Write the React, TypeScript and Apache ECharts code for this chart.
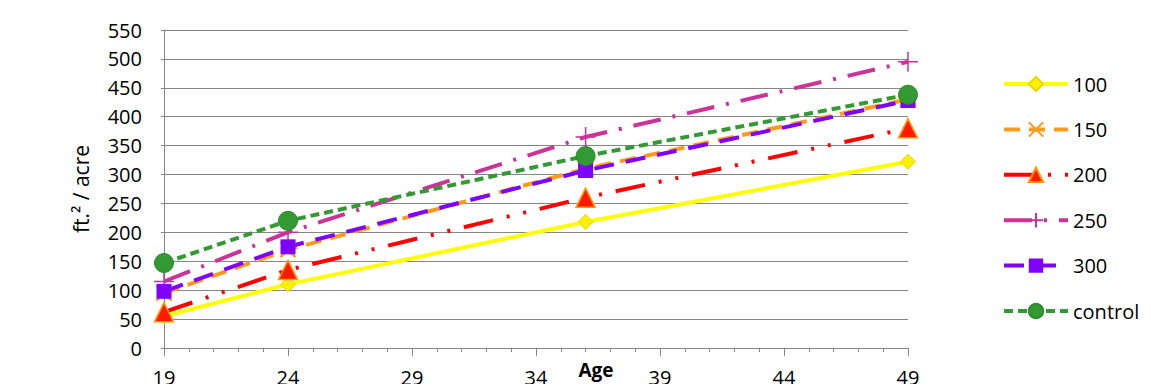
import React, { useEffect, useRef } from "react";
import * as echarts from "echarts";

const ageCategories: string[] = [];
for (let a = 19; a <= 49; a++) ageCategories.push(String(a));

const sampleAges = ["19", "24", "36", "49"];
const seriesNames = ["100", "150", "200", "250", "300", "control"];
const values100 = [55, 110, 218, 322];
const values150 = [95, 170, 310, 430];
const values200 = [62, 135, 260, 380];
const values250 = [115, 200, 365, 495];
const values300 = [98, 175, 307, 428];
const valuesControl = [147, 220, 332, 438];

const yTicksMax = 550;
const yTickStep = 50;

const FONT = "'Open Sans', 'Noto Sans', sans-serif";

const pair = (vals: number[]) => sampleAges.map((a, i) => [a, vals[i]]);

export default function App() {
  const ref = useRef<HTMLDivElement>(null);
  useEffect(() => {
    if (!ref.current) return;
    const chart = echarts.init(ref.current, undefined, { renderer: "svg" });
    const mk = (
      name: string,
      vals: number[],
      color: string,
      dash: any,
      symbol: string,
      size: number,
      itemStyle: any
    ) => ({
      name,
      type: "line",
      xAxisIndex: 0,
      data: pair(vals),
      symbol,
      symbolSize: size,
      showAllSymbol: true,
      lineStyle: { color, width: 4, type: dash, cap: "butt" },
      itemStyle,
      emphasis: { disabled: true },
    });
    chart.setOption({
      animation: false,
      backgroundColor: "#ffffff",
      textStyle: { fontFamily: FONT },
      grid: {
        left: 164,
        right: 243,
        top: 30,
        bottom: 44,
        containLabel: false,
        outerBoundsMode: "none",
      },
      legend: {
        orient: "vertical",
        left: 997,
        top: 69,
        itemWidth: 64,
        itemHeight: 18,
        itemGap: 25.4,
        data: seriesNames,
        lineStyle: { width: 4 },
        textStyle: { fontFamily: FONT, fontSize: 20, color: "#000" },
        selectedMode: false,
      },
      xAxis: [
        {
          type: "category",
          data: ageCategories,
          boundaryGap: false,
          axisLine: { lineStyle: { color: "#868686", width: 1 } },
          axisTick: { interval: 0, length: 4, lineStyle: { color: "#868686" } },
          axisLabel: { show: false },
          splitLine: { show: false },
        },
        {
          type: "category",
          data: ageCategories,
          boundaryGap: false,
          position: "bottom",
          axisLine: { show: false },
          axisTick: { interval: 4, length: 8, lineStyle: { color: "#868686" } },
          axisLabel: {
            interval: 4,
            margin: 19,
            fontFamily: FONT,
            fontSize: 20,
            color: "#000",
          },
          name: "Age",
          nameLocation: "middle",
          nameGap: 12,
          nameMoveOverlap: false,
          nameTextStyle: {
            fontFamily: FONT,
            fontSize: 19,
            fontWeight: "bold",
            color: "#000",
            padding: [0, 0, 0, 120],
          },
          splitLine: { show: false },
        },
      ],
      yAxis: {
        type: "value",
        min: 0,
        max: yTicksMax,
        interval: yTickStep,
        name: "ft.² / acre",
        nameLocation: "middle",
        nameGap: 73,
        nameMoveOverlap: false,
        nameRotate: 90,
        nameTextStyle: { fontFamily: FONT, fontSize: 21, color: "#000" },
        axisLine: { show: true, lineStyle: { color: "#868686", width: 1 } },
        axisTick: { show: true, length: 3, lineStyle: { color: "#868686" } },
        axisLabel: { fontFamily: FONT, fontSize: 20, color: "#000", margin: 22 },
        splitLine: { lineStyle: { color: "#868686", width: 1 } },
      },
      series: [
        mk("100", values100, "#FFFF00", "solid", "diamond", 15, {
          color: "#FFEF00",
          borderColor: "#E8D800",
          borderWidth: 1,
        }),
        mk("150", values150, "#FF9A1A", [16, 9], "path://M0,0 L10,10 M10,0 L0,10", 15, {
          color: "#FF9A1A",
          borderColor: "#FF9A1A",
          borderWidth: 2.5,
        }),
        mk("200", values200, "#FF0000", [30, 14, 3, 14, 3, 14], "triangle", 19, {
          color: "#FF1A00",
          borderColor: "#FF9900",
          borderWidth: 1.5,
        }),
        mk("250", values250, "#CC3399", [28, 12, 3, 12], "path://M5,0 L5,10 M0,5 L10,5", 20, {
          color: "#CC3399",
          borderColor: "#CC3399",
          borderWidth: 1.5,
        }),
        mk("300", values300, "#8000FF", [20, 12], "rect", 15, {
          color: "#8000FF",
          borderColor: "#8000FF",
          borderWidth: 0,
        }),
        mk("control", valuesControl, "#339933", [9, 5], "circle", 19, {
          color: "#339933",
          borderColor: "#2E8B2E",
          borderWidth: 1,
        }),
      ],
    });
    return () => chart.dispose();
  }, []);
  return <div ref={ref} style={{ width: 1151, height: 392, margin: -8 }} />;
}
